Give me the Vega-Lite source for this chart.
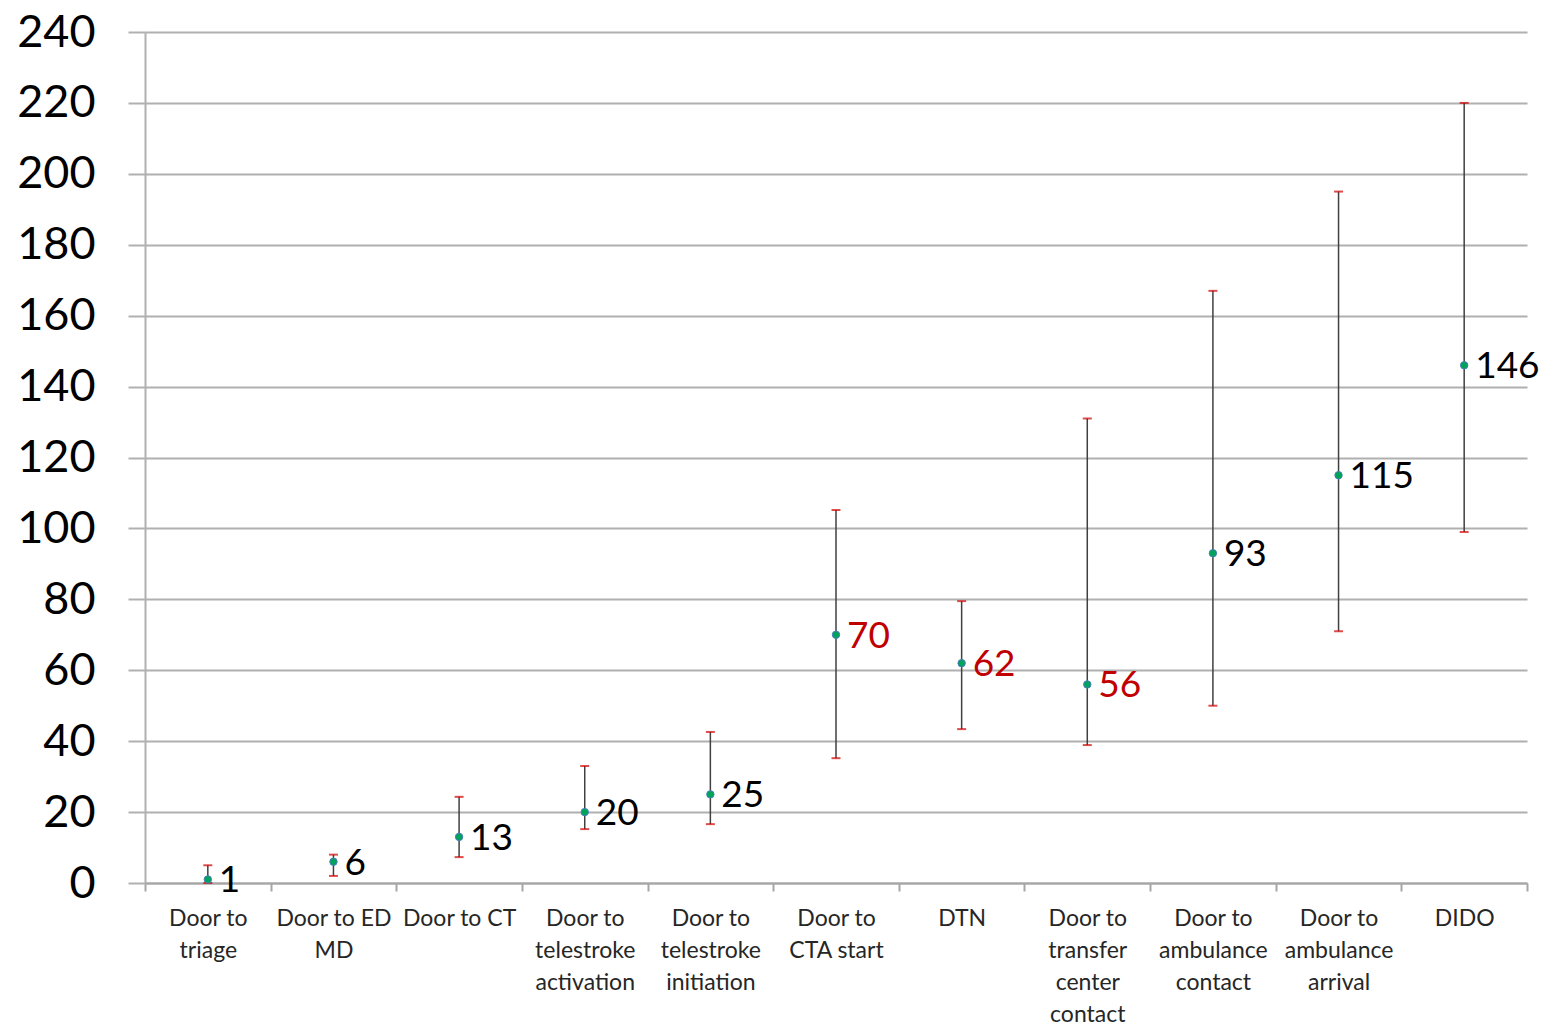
{
  "$schema": "https://vega.github.io/schema/vega-lite/v6.json",
  "width": 1382,
  "height": 851,
  "autosize": {"type": "none"},
  "padding": {"left": 145, "top": 32, "right": 15, "bottom": 143},
  "background": "white",
  "config": {"view": {"stroke": null}, "font": "Lato"},
  "data": {
    "values": [
      {"measure": "Door to|triage", "median": 1, "low": 0, "high": 5},
      {"measure": "Door to ED|MD", "median": 6, "low": 2, "high": 8},
      {"measure": "Door to CT", "median": 13, "low": 7.3, "high": 24.3},
      {"measure": "Door to|telestroke|activation", "median": 20, "low": 15.2, "high": 33},
      {"measure": "Door to|telestroke|initiation", "median": 25, "low": 16.6, "high": 42.6},
      {"measure": "Door to|CTA start", "median": 70, "low": 35.2, "high": 105.2},
      {"measure": "DTN", "median": 62, "low": 43.4, "high": 79.5},
      {"measure": "Door to|transfer|center|contact", "median": 56, "low": 38.9, "high": 131},
      {"measure": "Door to|ambulance|contact", "median": 93, "low": 50, "high": 167},
      {"measure": "Door to|ambulance|arrival", "median": 115, "low": 71, "high": 195},
      {"measure": "DIDO", "median": 146, "low": 99, "high": 220}
    ]
  },
  "encoding": {
    "x": {
      "field": "measure",
      "type": "nominal",
      "sort": null,
      "scale": {"paddingInner": 0, "paddingOuter": 0},
      "axis": {
        "title": null,
        "labelAngle": 0,
        "labelExpr": "split(datum.label, '|')",
        "labelFontSize": 23,
        "labelColor": "#262626",
        "labelLineHeight": 32,
        "labelBaseline": "top",
        "labelPadding": 16,
        "tickBand": "extent",
        "tickSize": 8,
        "tickColor": "#a6a6a6",
        "tickWidth": 2,
        "domainColor": "#a6a6a6",
        "domainWidth": 2,
        "grid": false
      }
    }
  },
  "layer": [
    {
      "mark": {"type": "rule", "color": "#404040", "strokeWidth": 1.5},
      "encoding": {
        "y": {
          "field": "low",
          "type": "quantitative",
          "scale": {"domain": [0, 240], "nice": false},
          "axis": {
            "title": null,
            "values": [0, 20, 40, 60, 80, 100, 120, 140, 160, 180, 200, 220, 240],
            "labelFontSize": 45,
            "labelColor": "#000000",
            "labelPadding": 33,
            "tickSize": 17,
            "tickColor": "#b0b0b0",
            "tickWidth": 2,
            "domainColor": "#b0b0b0",
            "domainWidth": 2,
            "gridColor": "#b0b0b0",
            "gridWidth": 2
          }
        },
        "y2": {"field": "high"}
      }
    },
    {
      "mark": {"type": "tick", "color": "#d00000", "thickness": 2, "size": 9},
      "encoding": {"y": {"field": "high", "type": "quantitative"}}
    },
    {
      "mark": {"type": "tick", "color": "#d00000", "thickness": 2, "size": 9},
      "encoding": {"y": {"field": "low", "type": "quantitative"}}
    },
    {
      "mark": {"type": "point", "filled": true, "fill": "#00a35a", "stroke": "#4a7ebb", "strokeWidth": 1, "size": 55, "opacity": 1},
      "encoding": {"y": {"field": "median", "type": "quantitative"}}
    },
    {
      "mark": {"type": "text", "align": "left", "baseline": "middle", "dx": 11, "dy": 2, "fontSize": 37},
      "encoding": {
        "y": {"field": "median", "type": "quantitative"},
        "text": {"field": "median", "type": "quantitative"},
        "color": {
          "condition": {"test": "datum.measure == 'Door to|CTA start' || datum.measure == 'DTN' || datum.measure == 'Door to|transfer|center|contact'", "value": "#c00000"},
          "value": "#000000"
        }
      }
    }
  ]
}
